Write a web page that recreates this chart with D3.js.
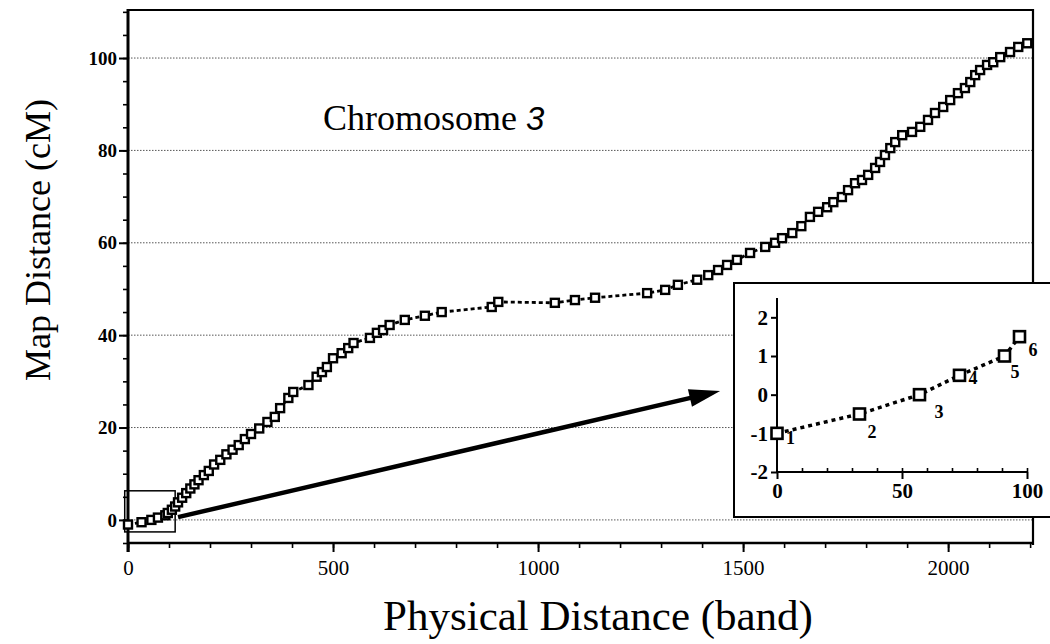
<!DOCTYPE html>
<html>
<head>
  <meta charset="utf-8">
  <title>Chromosome 3 map vs physical distance</title>
  <script src="https://d3js.org/d3.v7.min.js"></script>
  <style>
    body { margin: 0; background: #fff; }
    text { font-family: "Liberation Serif", "Times New Roman", serif; fill: #000; }
  </style>
</head>
<body>
  <div id="chart"></div>

  <script>
    // main series: physical position (band) vs map position (cM)
    var bandPos = [0, 33, 57, 73, 91, 97, 107, 115, 122, 132, 142, 152, 162, 172, 185, 197,
                   210, 225, 240, 255, 270, 285, 300, 320, 340, 358, 371, 391, 403, 440,
                   460, 473, 485, 500, 521, 537, 550, 590, 607, 622, 638, 675, 724, 765,
                   887, 903, 1041, 1090, 1139, 1266, 1310, 1341, 1388, 1415, 1439, 1461,
                   1485, 1517, 1554, 1578, 1595, 1620, 1642, 1663, 1683, 1705, 1720, 1741,
                   1756, 1773, 1790, 1805, 1822, 1834, 1846, 1859, 1871, 1888, 1912, 1932,
                   1951, 1968, 1988, 2005, 2024, 2041, 2054, 2066, 2078, 2095, 2110, 2127,
                   2151, 2171, 2193];
    var mapPos = [-1, -0.5, 0, 0.5, 1, 1.5, 2.2, 2.9, 3.8, 4.8, 5.8, 6.8, 7.7, 8.6, 9.7, 10.6,
                  12, 13, 14.2, 15.2, 16.2, 17.5, 18.6, 19.8, 21.2, 22.3, 24.2, 26.4, 27.7, 29.2,
                  31, 32, 33.1, 35, 36.1, 37.2, 38.3, 39.4, 40.5, 41.1, 42.2, 43.3, 44.2, 45,
                  46.1, 47.2, 47, 47.6, 48.1, 49.1, 49.8, 50.9, 52, 53, 54.1, 55.2,
                  56.3, 57.8, 59.1, 60, 61, 62.1, 63.6, 65.6, 66.7, 67.7, 68.8, 69.9,
                  71.4, 72.9, 73.6, 74.7, 76.2, 77.5, 79, 80.5, 81.8, 83.3, 84, 85.1,
                  86.6, 88.1, 89.4, 90.9, 92.4, 93.5, 94.8, 96.3, 97.4, 98.5, 99.1, 100.2,
                  101.3, 102.4, 103.2];

    // inset: the first six markers
    var insetBand = [0, 33, 57, 73, 91, 97];
    var insetMap = [-1, -0.5, 0, 0.5, 1, 1.5];
    var insetNames = ["1", "2", "3", "4", "5", "6"];

    var xMajor = [0, 500, 1000, 1500, 2000];
    var yMajor = [0, 20, 40, 60, 80, 100];
    var insetXTicks = [0, 50, 100];
    var insetYTicks = [-2, -1, 0, 1, 2];

    var data = bandPos.map((b, i) => ({ band: b, cm: mapPos[i] }));
    var insetData = insetBand.map((b, i) => ({ band: b, cm: insetMap[i], name: insetNames[i] }));

    var plain = d => String(d);   // "-1" with a hyphen, "1000" without comma

    var svg = d3.select("#chart")
                .append("svg")
                .attr("width", 1050)
                .attr("height", 644);

    var x = d3.scaleLinear().domain([0, 2207]).range([128, 1033]);
    var y = d3.scaleLinear().domain([-5, 110.4]).range([543, 10]);

    // grid lines
    svg.append("g")
       .selectAll("line")
       .data(yMajor)
       .enter().append("line")
       .attr("x1", x(0)).attr("x2", x(2207))
       .attr("y1", d => y(d)).attr("y2", d => y(d))
       .attr("stroke", "#444")
       .attr("stroke-width", 0.9)
       .attr("stroke-dasharray", "1.5,1.5");

    // frame top / right
    svg.append("path")
       .attr("d", `M${x(0)},${y(110.4)}H${x(2207)}V${y(-5) + 2}`)
       .attr("fill", "none").attr("stroke", "#000").attr("stroke-width", 2.2);

    // x axis
    var xMinor = svg.append("g")
       .attr("transform", `translate(0, ${y(-5)})`)
       .call(d3.axisBottom(x).tickValues(d3.range(0, 2201, 100)).tickSize(5).tickFormat("").tickSizeOuter(0));
    xMinor.select(".domain").remove();
    xMinor.selectAll("line").attr("stroke-width", 1.6);

    var xAx = svg.append("g")
       .attr("transform", `translate(0, ${y(-5)})`)
       .call(d3.axisBottom(x).tickValues(xMajor).tickFormat(plain).tickSize(9).tickPadding(8).tickSizeOuter(0));
    xAx.select(".domain").remove();
    xAx.selectAll("line").attr("stroke-width", 2);
    xAx.selectAll("text").style("font-family", "Liberation Serif").style("font-size", "21px");

    svg.append("line")
       .attr("x1", x(0) - 1).attr("x2", x(2207) + 1)
       .attr("y1", y(-5)).attr("y2", y(-5))
       .attr("stroke", "#000").attr("stroke-width", 2.4);

    // y axis
    var yMinor = svg.append("g")
       .attr("transform", `translate(${x(0)}, 0)`)
       .call(d3.axisLeft(y).tickValues(d3.range(-5, 111, 5)).tickSize(5).tickFormat("").tickSizeOuter(0));
    yMinor.select(".domain").remove();
    yMinor.selectAll("line").attr("stroke-width", 1.6);

    var yAx = svg.append("g")
       .attr("transform", `translate(${x(0)}, 0)`)
       .call(d3.axisLeft(y).tickValues(yMajor).tickFormat(plain).tickSize(9).tickPadding(2).tickSizeOuter(0));
    yAx.select(".domain").remove();
    yAx.selectAll("line").attr("stroke-width", 2);
    yAx.selectAll("text").style("font-family", "Liberation Serif").style("font-size", "19px").style("font-weight", "bold");

    svg.append("line")
       .attr("x1", x(0)).attr("x2", x(0))
       .attr("y1", y(110.4) - 1).attr("y2", y(-5) + 9)
       .attr("stroke", "#000").attr("stroke-width", 3);

    // zoom box around the origin
    svg.append("rect")
       .attr("x", x(-8)).attr("y", y(6.3))
       .attr("width", x(115) - x(-8)).attr("height", y(-2.6) - y(6.3))
       .attr("fill", "none").attr("stroke", "#000").attr("stroke-width", 1.5);

    // main series
    var line = d3.line().x(d => x(d.band)).y(d => y(d.cm));

    svg.append("path")
       .datum(data)
       .attr("fill", "none")
       .attr("stroke", "#000")
       .attr("stroke-width", 2.8)
       .attr("stroke-dasharray", "4,3")
       .attr("d", line);

    var sq = 8;
    svg.append("g")
       .selectAll("rect")
       .data(data)
       .enter().append("rect")
       .attr("x", d => x(d.band) - sq / 2)
       .attr("y", d => y(d.cm) - sq / 2)
       .attr("width", sq).attr("height", sq)
       .attr("fill", "#fff")
       .attr("stroke", "#000")
       .attr("stroke-width", 2.4);

    // arrow from the zoom box to the inset
    var ax0 = x(122), ay0 = y(0.6), ax1 = x(1444), ay1 = y(27.9);
    var ang = Math.atan2(ay1 - ay0, ax1 - ax0);
    var headLen = 31, headW = 9;
    var bx = ax1 - headLen * Math.cos(ang), by = ay1 - headLen * Math.sin(ang);
    svg.append("line")
       .attr("x1", ax0).attr("y1", ay0)
       .attr("x2", bx + 4 * Math.cos(ang)).attr("y2", by + 4 * Math.sin(ang))
       .attr("stroke", "#000").attr("stroke-width", 4.5);
    svg.append("path")
       .attr("d", `M${ax1},${ay1}L${bx - headW * Math.sin(ang)},${by + headW * Math.cos(ang)}L${bx + headW * Math.sin(ang)},${by - headW * Math.cos(ang)}Z`)
       .attr("fill", "#000");

    // title
    var title = svg.append("text")
       .attr("x", 323).attr("y", 130)
       .style("font-size", "36px");
    title.append("tspan").text("Chromosome ");
    title.append("tspan").text("3")
         .style("font-family", "Liberation Sans").style("font-style", "italic").style("font-size", "33px");

    // axis titles
    svg.append("text")
       .attr("transform", "translate(50, 240) rotate(-90)")
       .attr("text-anchor", "middle")
       .style("font-size", "36px")
       .text("Map Distance (cM)");

    svg.append("text")
       .attr("x", 598).attr("y", 630)
       .attr("text-anchor", "middle")
       .style("font-size", "43px")
       .text("Physical Distance (band)");

    // ---- inset ----
    var inset = svg.append("g");
    inset.append("rect")
       .attr("x", 734).attr("y", 283)
       .attr("width", 340).attr("height", 234)
       .attr("fill", "#fff").attr("stroke", "#000").attr("stroke-width", 2);

    var ix = d3.scaleLinear().domain([0, 100]).range([777, 1027]);
    var iy = d3.scaleLinear().domain([-2, 2.5]).range([472, 298]);

    var ixMinor = inset.append("g")
       .attr("transform", `translate(0, ${iy(-2)})`)
       .call(d3.axisBottom(ix).tickValues(d3.range(10, 101, 10)).tickSize(-4).tickFormat("").tickSizeOuter(0));
    ixMinor.select(".domain").remove();
    ixMinor.selectAll("line").attr("stroke-width", 1.6);

    var ixAx = inset.append("g")
       .attr("transform", `translate(0, ${iy(-2)})`)
       .call(d3.axisBottom(ix).tickValues(insetXTicks).tickFormat(plain).tickSize(7).tickPadding(4).tickSizeOuter(0));
    ixAx.select(".domain").remove();
    ixAx.selectAll("line").attr("stroke-width", 2);
    ixAx.selectAll("text").style("font-family", "Liberation Serif").style("font-size", "21px").style("font-weight", "bold");

    inset.append("line")
       .attr("x1", ix(0)).attr("x2", ix(100) + 1)
       .attr("y1", iy(-2)).attr("y2", iy(-2))
       .attr("stroke", "#000").attr("stroke-width", 2);

    var iyAx = inset.append("g")
       .attr("transform", `translate(${ix(0)}, 0)`)
       .call(d3.axisLeft(iy).tickValues(insetYTicks).tickFormat(plain).tickSize(6).tickPadding(3).tickSizeOuter(0));
    iyAx.select(".domain").remove();
    iyAx.selectAll("line").attr("stroke-width", 2);
    iyAx.selectAll("text").style("font-family", "Liberation Serif").style("font-size", "21px").style("font-weight", "bold");

    inset.append("line")
       .attr("x1", ix(0)).attr("x2", ix(0))
       .attr("y1", iy(2.5)).attr("y2", iy(-2) + 1)
       .attr("stroke", "#000").attr("stroke-width", 2);

    var iline = d3.line().x(d => ix(d.band)).y(d => iy(d.cm));
    inset.append("path")
       .datum(insetData)
       .attr("fill", "none")
       .attr("stroke", "#000")
       .attr("stroke-width", 3.5)
       .attr("stroke-dasharray", "4,4")
       .attr("d", iline);

    var isq = 11;
    inset.selectAll(".pt")
       .data(insetData)
       .enter().append("rect")
       .attr("class", "pt")
       .attr("x", d => ix(d.band) - isq / 2)
       .attr("y", d => iy(d.cm) - isq / 2)
       .attr("width", isq).attr("height", isq)
       .attr("fill", "#fff")
       .attr("stroke", "#000")
       .attr("stroke-width", 2.6);

    // small nudges for the marker numbers
    var nudge = [[9, 11], [8, 24], [15, 23], [9, 9], [6, 22], [9, 19]];
    inset.selectAll(".lbl")
       .data(insetData)
       .enter().append("text")
       .attr("class", "lbl")
       .attr("x", (d, i) => ix(d.band) + nudge[i][0])
       .attr("y", (d, i) => iy(d.cm) + nudge[i][1])
       .style("font-size", "18px")
       .style("font-weight", "bold")
       .text(d => d.name);
  </script>
</body>
</html>
